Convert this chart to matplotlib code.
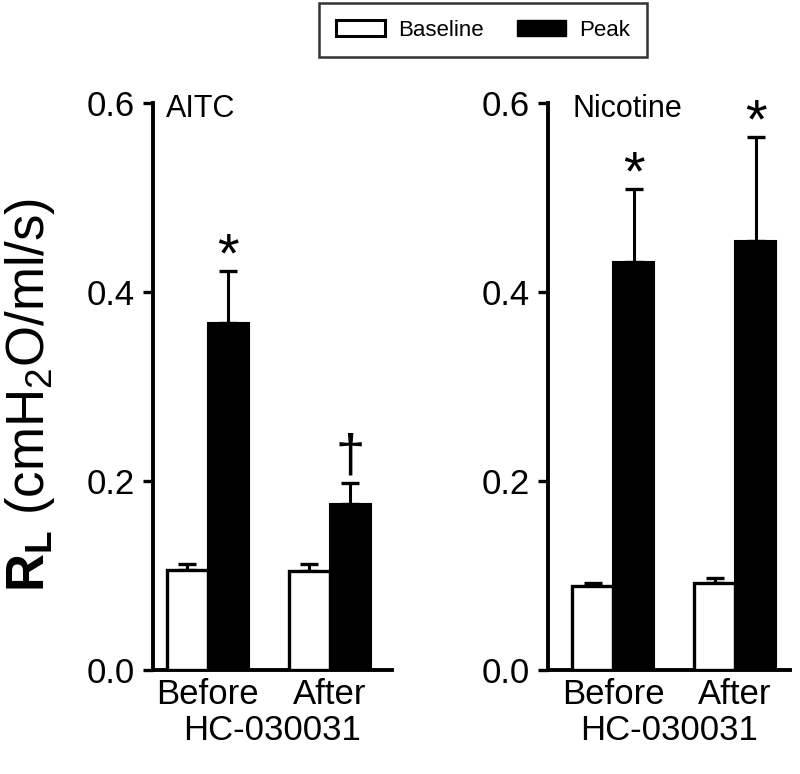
import matplotlib
matplotlib.use("Agg")
import matplotlib.pyplot as plt
from matplotlib.patches import Patch

plt.rcParams['font.family'] = ['Liberation Sans', 'DejaVu Sans']
plt.rcParams['mathtext.fontset'] = 'custom'
plt.rcParams['mathtext.rm'] = 'Liberation Sans'
plt.rcParams['mathtext.bf'] = 'Liberation Sans:bold'
plt.rcParams['mathtext.it'] = 'Liberation Sans:italic'

groups = ["Before", "After"]
xlabel = "HC-030031"
panels = ["AITC", "Nicotine"]
baseline = {"AITC": [0.106, 0.105], "Nicotine": [0.089, 0.092]}
baseline_err = {"AITC": [0.006, 0.007], "Nicotine": [0.003, 0.005]}
peak = {"AITC": [0.367, 0.176], "Nicotine": [0.432, 0.454]}
peak_err = {"AITC": [0.055, 0.022], "Nicotine": [0.077, 0.110]}
marks = {"AITC": ["*", "\u2020"], "Nicotine": ["*", "*"]}
yticks = [0.0, 0.2, 0.4, 0.6]

fig = plt.figure(figsize=(8, 7.74), dpi=100)
ax1 = fig.add_axes([153/800, 1-670/774, (392-153)/800, (670-103)/774])
ax2 = fig.add_axes([548/800, 1-670/774, (790-548)/800, (670-103)/774])

w = 0.336
xlims = {"AITC": (-0.45, 1.508), "Nicotine": (-0.533, 1.45)}
for ax, name in zip([ax1, ax2], panels):
    x = [0, 1]
    xb = [xi - w/2 for xi in x]
    xp = [xi + w/2 for xi in x]
    ax.bar(xb, baseline[name], width=w, color='white', edgecolor='black', linewidth=2.4, zorder=3)
    ax.bar(xp, peak[name], width=w, color='black', edgecolor='black', linewidth=1.5, zorder=3)
    ax.errorbar(xb, baseline[name], yerr=[[0, 0], baseline_err[name]], fmt='none',
                ecolor='black', elinewidth=2.2, capsize=6.5, capthick=2.4, zorder=2)
    ax.errorbar(xp, peak[name], yerr=[[0, 0], peak_err[name]], fmt='none',
                ecolor='black', elinewidth=2.2, capsize=6.5, capthick=2.4, zorder=2)
    for xi, v, e, m in zip(xp, peak[name], peak_err[name], marks[name]):
        if m == "*":
            ax.text(xi, v + e - 0.013, m, ha='center', va='bottom', fontsize=40)
        else:
            ax.text(xi, v + e + 0.000, m, ha='center', va='bottom', fontsize=38)
    ax.set_xlim(*xlims[name])
    ax.set_ylim(0, 0.6)
    ax.set_yticks(yticks)
    ax.set_yticklabels([f"{t:.1f}" for t in yticks])
    ax.set_xticks(x)
    ax.set_xticklabels(groups)
    ax.tick_params(axis='x', length=0, labelsize=25, pad=6)
    ax.tick_params(axis='y', direction='out', length=7, width=2.4, labelsize=25, pad=6)
    for s in ['top', 'right']:
        ax.spines[s].set_visible(False)
    for s in ['left', 'bottom']:
        ax.spines[s].set_linewidth(2.8)
    ax.set_xlabel(xlabel, fontsize=25, labelpad=2)
    ax.text(0.055 if name == "AITC" else 0.103, 0.99, name, transform=ax.transAxes,
            fontsize=22, ha='left', va='center')

fig.text(30/800, 1-395/774, r'$\mathbf{R_L}$ (cmH$_2$O/ml/s)', rotation=90,
         fontsize=38, ha='center', va='center')

handles = [Patch(facecolor='white', edgecolor='black', linewidth=2.2, label='Baseline'),
           Patch(facecolor='black', edgecolor='black', label='Peak')]
leg = fig.legend(handles=handles, loc='center', bbox_to_anchor=(483/800, 1-30/774), ncol=2,
                 fontsize=16, frameon=True, fancybox=False, edgecolor='black',
                 handlelength=2.2, handleheight=0.75, handletextpad=0.6,
                 columnspacing=1.5, borderpad=0.75)
leg.get_frame().set_linewidth(1.8)

fig.savefig("out.png", dpi=100)
